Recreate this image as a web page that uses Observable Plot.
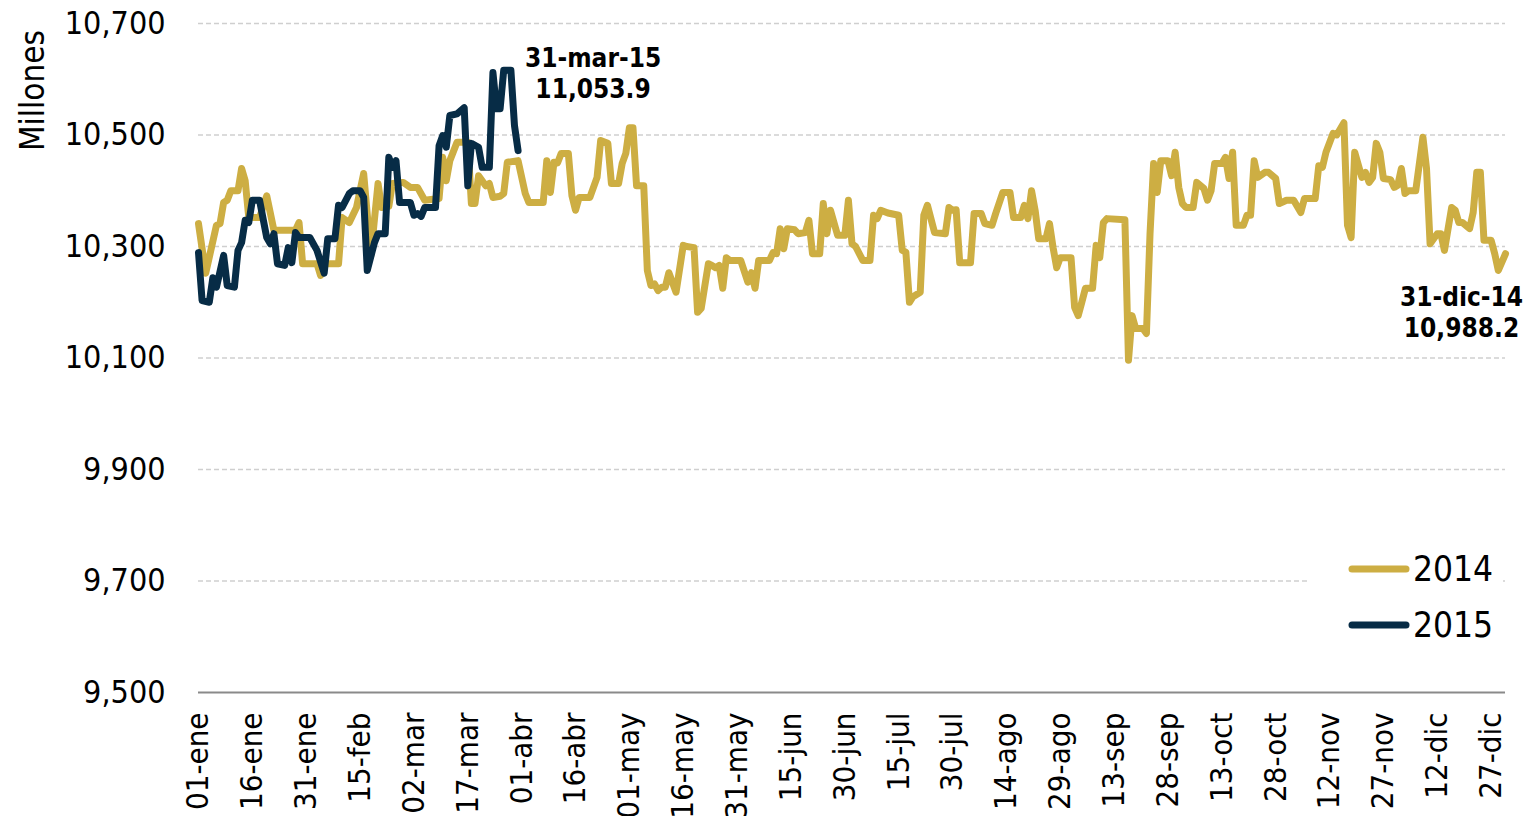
<!DOCTYPE html>
<html>
<head>
<meta charset="utf-8">
<script src="https://cdn.jsdelivr.net/npm/d3@7"></script>
<script src="https://cdn.jsdelivr.net/npm/@observablehq/plot@0.6"></script>
<style>
  html, body { margin: 0; padding: 0; background: #fff; }
  #wrap { position: relative; width: 1539px; height: 816px; font-family: "DejaVu Sans Condensed", "DejaVu Sans", sans-serif; font-stretch: condensed; }
  #wrap svg text { font-stretch: condensed; }
  #legend { position: absolute; left: 1308px; top: 541px; padding-left: 40px; padding-right: 10px; background: #fff; font-size: 35px; color: #000; font-stretch: condensed; }
  .item { display: flex; align-items: center; height: 56px; }
  .item svg { margin-right: 3px; }
</style>
</head>
<body>
<div id="wrap"></div>
<script>
// 2014 series: [day of year (0 = 01-ene), value]
const series2014 = [[0,10341],[2,10252],[5,10338],[6,10341],[7,10379],[8,10383],[9,10400],[11,10400],[12,10440],[13,10418],[14,10352],[17,10352],[19,10391],[21,10329],[27,10329],[28,10343],[29,10269],[33,10269],[34,10248],[35,10269],[39,10269],[40,10352],[42,10343],[44,10370],[46,10431],[48,10284],[50,10413],[51,10370],[53,10372],[54,10413],[57,10415],[59,10406],[61,10406],[63,10383],[67,10386],[68,10460],[69,10418],[70,10454],[72,10487],[75,10487],[76,10377],[77,10377],[78,10427],[80,10409],[81,10413],[82,10388],[84,10390],[85,10395],[86,10451],[89,10454],[91,10395],[92,10379],[96,10379],[97,10454],[98,10397],[99,10451],[100,10450],[101,10467],[103,10467],[104,10391],[105,10365],[106,10388],[109,10388],[111,10424],[112,10490],[114,10485],[115,10413],[117,10413],[118,10449],[119,10467],[120,10513],[121,10513],[122,10409],[124,10409],[125,10257],[126,10230],[127,10233],[128,10221],[129,10227],[130,10227],[131,10253],[133,10218],[135,10302],[136,10300],[138,10298],[139,10182],[140,10189],[142,10269],[143,10266],[144,10262],[145,10266],[146,10225],[147,10280],[148,10275],[151,10275],[153,10236],[154,10253],[155,10225],[156,10275],[159,10275],[160,10289],[161,10287],[162,10332],[163,10296],[164,10332],[166,10330],[167,10323],[169,10325],[170,10347],[171,10287],[173,10287],[174,10377],[175,10323],[176,10365],[178,10320],[180,10320],[181,10383],[182,10305],[183,10300],[185,10275],[187,10275],[188,10356],[189,10350],[190,10365],[192,10360],[195,10356],[196,10293],[197,10290],[198,10200],[199,10210],[201,10218],[202,10356],[203,10374],[205,10325],[208,10323],[209,10370],[210,10365],[211,10366],[212,10271],[215,10271],[216,10359],[218,10359],[219,10341],[221,10338],[222,10359],[224,10397],[226,10397],[227,10352],[229,10352],[230,10374],[231,10350],[232,10400],[233,10365],[234,10314],[236,10314],[237,10341],[238,10298],[239,10262],[240,10280],[243,10280],[244,10191],[245,10176],[246,10200],[247,10225],[249,10225],[250,10302],[251,10280],[252,10343],[253,10350],[258,10348],[259,10096],[260,10176],[261,10153],[263,10153],[264,10144],[265,10323],[266,10449],[267,10397],[268,10454],[270,10454],[271,10427],[272,10469],[273,10406],[274,10377],[275,10370],[277,10370],[278,10415],[280,10404],[281,10383],[282,10400],[283,10449],[285,10449],[286,10460],[287,10422],[288,10469],[289,10338],[291,10338],[292,10356],[293,10356],[294,10454],[295,10424],[297,10433],[298,10433],[300,10422],[301,10377],[303,10383],[305,10383],[307,10361],[308,10386],[311,10386],[312,10445],[313,10442],[314,10469],[316,10503],[317,10500],[319,10522],[320,10338],[321,10316],[322,10469],[324,10424],[325,10433],[326,10415],[327,10424],[328,10485],[329,10469],[330,10422],[332,10420],[333,10406],[334,10410],[335,10440],[336,10395],[337,10400],[339,10400],[341,10496],[342,10440],[343,10305],[345,10323],[346,10323],[347,10293],[349,10370],[350,10365],[351,10343],[352,10343],[354,10332],[355,10361],[356,10433],[357,10433],[358,10311],[360,10311],[361,10287],[362,10257],[364,10287]];

// 2015 series: [day of year, value]
const series2015 = [[0,10289],[1,10203],[3,10200],[4,10244],[5,10227],[7,10284],[8,10230],[10,10227],[11,10293],[12,10307],[13,10347],[14,10343],[15,10383],[17,10383],[19,10316],[20,10305],[21,10323],[22,10269],[24,10266],[25,10298],[26,10271],[27,10325],[28,10316],[31,10316],[33,10293],[35,10252],[36,10314],[38,10314],[39,10374],[40,10370],[42,10395],[43,10400],[45,10400],[46,10388],[47,10257],[49,10307],[50,10323],[52,10323],[53,10460],[54,10442],[55,10454],[56,10379],[59,10379],[60,10356],[61,10359],[62,10354],[63,10370],[66,10370],[67,10481],[68,10499],[69,10478],[70,10535],[72,10538],[74,10549],[75,10409],[76,10485],[78,10478],[79,10442],[81,10442],[82,10612],[83,10547],[84,10547],[85,10616],[87,10616],[88,10517],[89,10472]];

const seriesNames = ["2014", "2015"];
const xTickDays = [0,15,30,45,60,75,90,105,120,135,150,165,180,195,210,225,240,255,270,285,300,315,330,345,360];
const xTickLabels = ["01-ene","16-ene","31-ene","15-feb","02-mar","17-mar","01-abr","16-abr","01-may","16-may","31-may","15-jun","30-jun","15-jul","30-jul","14-ago","29-ago","13-sep","28-sep","13-oct","28-oct","12-nov","27-nov","12-dic","27-dic"];
const yTicks = [9500, 9700, 9900, 10100, 10300, 10500, 10700];
const annotationLabels = ["31-mar-15\n11,053.9", "31-dic-14\n10,988.2"];
const yLabel = "Millones";

const gold = "#CDAE43";
const navy = "#072C46";
const font = '"DejaVu Sans Condensed", "DejaVu Sans", sans-serif';

const rows2014 = series2014.map(([day, value]) => ({day, value}));
const rows2015 = series2015.map(([day, value]) => ({day, value}));
const last2014 = rows2014[rows2014.length - 1];
const last2015 = rows2015[rows2015.length - 1];

const chart = Plot.plot({
  width: 1539,
  height: 816,
  marginLeft: 198,
  marginRight: 34,
  marginTop: 23,
  marginBottom: 124,
  style: {fontFamily: font, color: "#000", background: "#fff"},
  x: {domain: [0, 364]},
  y: {domain: [9500, 10700]},
  marks: [
    Plot.gridY(yTicks.slice(1), {stroke: "#cfcfcf", strokeOpacity: 1, strokeWidth: 1.5, strokeDasharray: "5,3"}),
    Plot.ruleY([yTicks[0]], {stroke: "#8a8a8a", strokeWidth: 2}),
    Plot.axisY(yTicks, {tickSize: 0, tickPadding: 33, fontSize: 32, tickFormat: d3.format(","), label: null}),
    Plot.axisX(xTickDays, {tickSize: 0, tickPadding: 20, tickRotate: -90, fontSize: 31, tickFormat: (d) => xTickLabels[xTickDays.indexOf(d)], label: null}),
    Plot.line(rows2014, {x: "day", y: "value", stroke: gold, strokeWidth: 7, strokeLinejoin: "round", strokeLinecap: "round"}),
    Plot.line(rows2015, {x: "day", y: "value", stroke: navy, strokeWidth: 7, strokeLinejoin: "round", strokeLinecap: "round"}),
    Plot.text([last2015], {x: "day", y: "value", text: () => annotationLabels[0], dx: 75, dy: -78, fontSize: 26, fontWeight: "bold", lineHeight: 1.2, fill: "#000"}),
    Plot.text([last2014], {x: "day", y: "value", text: () => annotationLabels[1], dx: -44, dy: 58, fontSize: 26, fontWeight: "bold", lineHeight: 1.2, fill: "#000"})
  ]
});

d3.select(chart).append("text")
  .attr("transform", "translate(44,30) rotate(-90)")
  .attr("text-anchor", "end")
  .attr("font-size", 33)
  .attr("font-family", font)
  .attr("fill", "#000")
  .text(yLabel);

const wrap = document.getElementById("wrap");
wrap.appendChild(chart);

const legend = document.createElement("div");
legend.id = "legend";
const colors = [gold, navy];
seriesNames.forEach((name, i) => {
  const item = document.createElement("div");
  item.className = "item";
  item.innerHTML = `<svg width="62" height="12"><line x1="4" y1="6" x2="58" y2="6" stroke="${colors[i]}" stroke-width="7" stroke-linecap="round"/></svg><span>${name}</span>`;
  legend.appendChild(item);
});
wrap.appendChild(legend);
</script>
</body>
</html>
